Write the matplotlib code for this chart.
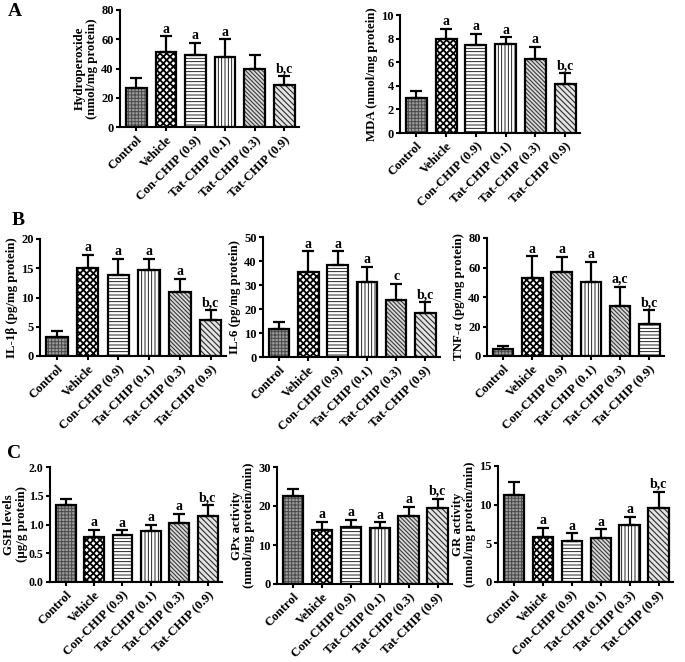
import matplotlib
matplotlib.use('Agg')
import matplotlib.pyplot as plt
import numpy as np

plt.rcParams['font.family'] = ['Liberation Serif', 'DejaVu Serif']
plt.rcParams['font.weight'] = 'bold'
plt.rcParams['axes.labelweight'] = 'bold'

groups = ['Control', 'Vehicle', 'Con-CHIP (0.9)', 'Tat-CHIP (0.1)', 'Tat-CHIP (0.3)', 'Tat-CHIP (0.9)']

hydro_mean = [27, 51, 49, 48, 40, 29]
hydro_err = [6.5, 11, 8.5, 12, 9, 6]
hydro_sig = ['', 'a', 'a', 'a', '', 'b,c']

mda_mean = [3.0, 8.0, 7.45, 7.55, 6.3, 4.15]
mda_err = [0.6, 0.8, 0.95, 0.55, 1.0, 0.95]
mda_sig = ['', 'a', 'a', 'a', 'a', 'b,c']

il1b_mean = [3.3, 15.0, 13.8, 14.7, 10.9, 6.2]
il1b_err = [1.0, 2.3, 2.8, 1.9, 2.3, 1.7]
il1b_sig = ['', 'a', 'a', 'a', 'a', 'b,c']

il6_mean = [11.7, 35.4, 38.2, 31.2, 23.7, 18.3]
il6_err = [2.9, 8.6, 5.8, 6.4, 6.9, 4.7]
il6_sig = ['', 'a', 'a', 'a', 'c', 'b,c']

tnf_mean = [5, 53, 57, 50, 34, 22]
tnf_err = [2, 14.5, 10, 14, 13, 9]
tnf_sig = ['', 'a', 'a', 'a', 'a,c', 'b,c']

gsh_mean = [1.34, 0.79, 0.81, 0.89, 1.02, 1.14]
gsh_err = [0.10, 0.12, 0.09, 0.10, 0.16, 0.20]
gsh_sig = ['', 'a', 'a', 'a', 'a', 'b,c']

gpx_mean = [22.6, 13.9, 14.5, 14.4, 17.5, 19.4]
gpx_err = [1.8, 2.1, 1.9, 1.4, 2.2, 2.5]
gpx_sig = ['', 'a', 'a', 'a', 'a', 'b,c']

gr_mean = [11.2, 5.8, 5.3, 5.7, 7.4, 9.6]
gr_err = [1.7, 1.2, 1.0, 1.1, 1.0, 2.1]
gr_sig = ['', 'a', 'a', 'a', 'a', 'b,c']

# hatch styles: (facecolor, hatch, hatchcolor, hatch linewidth)
CTRL = ('#9c9c9c', '+++++', '#4a4a4a', 0.7)
VEH = ('white', 'xxxxx', 'black', 1.3)
HOR = ('white', '-----', 'black', 0.6)
VER = ('white', '|||||', 'black', 0.6)
DDENSE = ('#d8d8d8', '\\' * 8, '#3a3a3a', 0.8)
DIAG = ('#e4e4e4', '\\' * 6, '#2a2a2a', 0.8)

std_styles = [CTRL, VEH, HOR, VER, DDENSE, DIAG]
tnf_styles = [CTRL, VEH, DDENSE, VER, DDENSE, HOR]
gr_styles = [CTRL, VEH, HOR, DDENSE, VER, DIAG]

W, H = 685, 662
fig = plt.figure(figsize=(W / 100, H / 100), dpi=100)


def add_ax(x0, x1, y0, y1):
    return fig.add_axes([x0 / W, 1 - y1 / H, (x1 - x0) / W, (y1 - y0) / H])


panels = [
    ((120, 299, 10, 127), hydro_mean, hydro_err, hydro_sig, std_styles, 'Hydroperoxide\n(nmol/mg protein)', 80, 20, '%d', 2, 9),
    ((400, 580, 15, 133), mda_mean, mda_err, mda_sig, std_styles, 'MDA (nmol/mg protein)', 10, 2, '%d', 2, 9),
    ((40, 226, 239, 356), il1b_mean, il1b_err, il1b_sig, std_styles, 'IL-1\u03b2 (pg/mg protein)', 20, 5, '%d', 2, 9),
    ((263, 440, 237, 357), il6_mean, il6_err, il6_sig, std_styles, 'IL-6 (pg/mg protein)', 50, 10, '%d', 2, 9),
    ((487, 664, 238, 356), tnf_mean, tnf_err, tnf_sig, tnf_styles, 'TNF-\u03b1 (pg/mg protein)', 80, 20, '%d', 2, 9),
    ((50, 222, 467, 582), gsh_mean, gsh_err, gsh_sig, std_styles, 'GSH levels\n(\u00b5g/g protein)', 2.0, 0.5, '%.1f', 0.5, 8.5),
    ((277, 452, 467, 584), gpx_mean, gpx_err, gpx_sig, std_styles, 'GPx activity\n(nmol/mg protein/min)', 30, 10, '%d', 2, 9),
    ((498, 673, 466, 582), gr_mean, gr_err, gr_sig, gr_styles, 'GR activity\n(nmol/mg protein/min)', 15, 5, '%d', 2, 9),
]

x = np.arange(len(groups))
for box, mean, err, sig, styles, ylabel, ymax, ystep, fmt, lpad, ysize in panels:
    ax = add_ax(*box)
    for i in range(len(groups)):
        fc, hatch, hc, hlw = styles[i]
        with plt.rc_context({'hatch.linewidth': hlw}):
            ax.bar(x[i], mean[i], width=0.7, color=fc, edgecolor=hc, hatch=hatch,
                   linewidth=0, zorder=2)
    ax.bar(x, mean, width=0.7, facecolor='none', edgecolor='black', linewidth=1.6, zorder=3)
    ax.errorbar(x, mean, yerr=[np.zeros(len(err)), err], fmt='none', ecolor='black',
                elinewidth=1.6, capsize=4, capthick=1.6, zorder=4)
    for i, s in enumerate(sig):
        if s:
            ax.annotate(s, (x[i], mean[i] + err[i]), xytext=(0, 0.5), textcoords='offset points',
                        ha='center', va='bottom', fontsize=10, fontweight='bold')
    ax.set_ylim(0, ymax)
    ax.set_xlim(-0.55, 5.5)
    ax.set_yticks(np.arange(0, ymax + ystep / 2, ystep))
    ax.yaxis.set_major_formatter(matplotlib.ticker.FormatStrFormatter(fmt))
    ax.set_xticks(x)
    ax.set_xticklabels(groups, rotation=45, ha='right', rotation_mode='anchor')
    ax.tick_params(axis='both', width=1.5, length=3, pad=1.5)
    ax.tick_params(axis='y', labelsize=ysize)
    ax.tick_params(axis='x', labelsize=9.2, pad=2)
    for lab in ax.get_yticklabels() + ax.get_xticklabels():
        lab.set_fontweight('bold')
    for sp in ['top', 'right']:
        ax.spines[sp].set_visible(False)
    for sp in ['left', 'bottom']:
        ax.spines[sp].set_linewidth(1.5)
    ax.set_ylabel(ylabel, fontsize=9.3, fontweight='bold', labelpad=lpad, linespacing=1.1)

fig.text(15 / W, 1 - 12 / H, 'A', fontsize=14, fontweight='bold', ha='center', va='center')
fig.text(18 / W, 1 - 221 / H, 'B', fontsize=14, fontweight='bold', ha='center', va='center')
fig.text(14 / W, 1 - 454 / H, 'C', fontsize=14, fontweight='bold', ha='center', va='center')

fig.savefig('out.png', dpi=100)
